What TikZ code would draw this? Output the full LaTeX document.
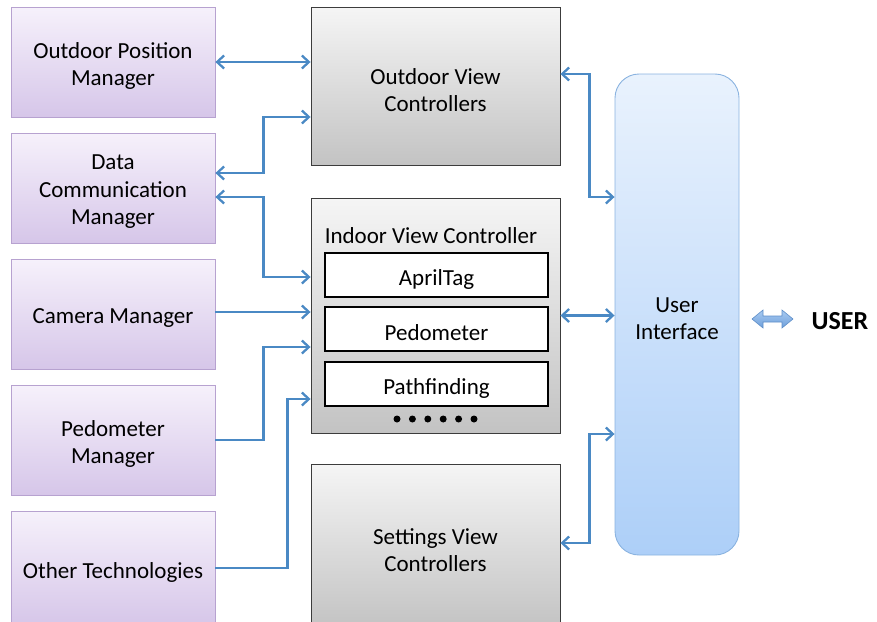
\documentclass[tikz,border=0pt]{standalone}
\usepackage{fontspec}
\setmainfont{Carlito}
\usetikzlibrary{arrows.meta}
\definecolor{linkblue}{HTML}{4A89C4}
\definecolor{lavtop}{HTML}{F6F1FB}
\definecolor{lavbot}{HTML}{D6C6E9}
\definecolor{lavedge}{HTML}{B7A2D0}
\definecolor{greytop}{HTML}{F5F5F5}
\definecolor{greybot}{HTML}{C3C3C3}
\definecolor{greyedge}{HTML}{3C3C3C}
\definecolor{uitop}{HTML}{E9F2FD}
\definecolor{uibot}{HTML}{ADCFF8}
\definecolor{uiedge}{HTML}{8AB3E0}
\definecolor{bigtop}{HTML}{A9CBF2}
\definecolor{bigbot}{HTML}{6E9FDA}
\definecolor{bigedge}{HTML}{5E8EC8}
\begin{document}
\begin{tikzpicture}[x=1pt,y=-1pt,
  every node/.style={font=\fontsize{23}{27.5}\selectfont, align=center, inner sep=0pt},
  boxtext/.style={font=\fontsize{23}{27.5}\selectfont, align=center, yshift=-4pt},
  manager/.style={draw=lavedge, line width=0.8pt, top color=lavtop, bottom color=lavbot,
    minimum width=204pt, minimum height=110pt},
  viewctl/.style={draw=greyedge, line width=0.9pt, top color=greytop, bottom color=greybot,
    minimum width=249pt},
  module/.style={draw=black, line width=1.8pt, fill=white, minimum width=223pt, minimum height=44pt},
  link/.style={draw=linkblue, line width=2.3pt, arrows={-Straight Barb[length=7pt,width=13pt,line width=2.3pt]}},
  both/.style={draw=linkblue, line width=2.3pt,
    arrows={Straight Barb[length=7pt,width=13pt,line width=2.3pt]-Straight Barb[length=7pt,width=13pt,line width=2.3pt]}}
]
\useasboundingbox (0,0) rectangle (877,621);

% data sources on the left
\node[manager, label={[boxtext]center:Outdoor Position\\Manager}] (opm) at (113,62) {};
\node[manager, label={[boxtext]center:Data\\Communication\\Manager}] (dcm) at (113,188) {};
\node[manager, label={[boxtext]center:Camera Manager}] (cam) at (113,314) {};
\node[manager, label={[boxtext]center:Pedometer\\Manager}] (ped) at (113,440) {};
\node[manager, minimum height=114pt, label={[boxtext]center:Other Technologies}] (oth) at (113,568) {};

% view controllers
\node[viewctl, minimum height=158pt, label={[boxtext]center:Outdoor View\\Controllers}] (ovc) at (435.5,86) {};
\node[viewctl, minimum height=235pt] (ivc) at (435.5,315.5) {};
\node[boxtext] (ivct) at (431,232) {Indoor View Controller};
\node[module, label={[boxtext]center:AprilTag}] (april) at (436.5,275) {};
\node[module, label={[boxtext]center:Pedometer}] (pedo)  at (436.5,329) {};
\node[module, label={[boxtext]center:Pathfinding}] (path)  at (436.5,384) {};
\foreach \i in {0,...,5} \fill (397+\i*15.4,419) circle (3.5pt);
\node[viewctl, minimum height=164pt, label={[boxtext]center:Settings View\\Controllers}] (svc) at (435.5,546) {};

% user interface
\node[draw=uiedge, line width=0.9pt, top color=uitop, bottom color=uibot,
  rounded corners=24pt, minimum width=124pt, minimum height=481pt,
  label={[boxtext]center:User\\Interface}] (ui) at (677,314.5) {};

% user
\node[font=\fontsize{26}{30}\selectfont\bfseries] (user) at (840,321) {USER};
\draw[draw=bigedge, line width=0.6pt, top color=bigtop, bottom color=bigbot]
  (752,319) -- (763,310) -- (763,316) -- (782,316) -- (782,310) -- (793,319)
  -- (782,328) -- (782,322) -- (763,322) -- (763,328) -- cycle;

% connections to the view controllers
\draw[both] (opm.east) -- (opm.east -| ovc.west);
\draw[both] ([yshift=15pt]dcm.east) -- ++(48,0) |- ([yshift=-31pt]ovc.west);
\draw[both] ([yshift=-9pt]dcm.east) -- ++(48,0) |- ([yshift=38.5pt]ivc.west);
\draw[link] ([yshift=2pt]cam.east) -- ([yshift=2pt]cam.east -| ivc.west);
\draw[link] (ped.east) -- ++(48,0) |- ([yshift=-31.5pt]ivc.west);
\draw[link] (oth.east) -- ++(72,0) |- ([yshift=-83.5pt]ivc.west);

% connections to the user interface
\draw[both] ([yshift=12pt]ovc.east) -- ++(29,0) |- ([yshift=117.5pt]ui.west);
\draw[both] (ivc.east) -- (ivc.east -| ui.west);
\draw[both] ([yshift=3pt]svc.east) -- ++(29,0) |- ([yshift=-119.5pt]ui.west);
\end{tikzpicture}
\end{document}
